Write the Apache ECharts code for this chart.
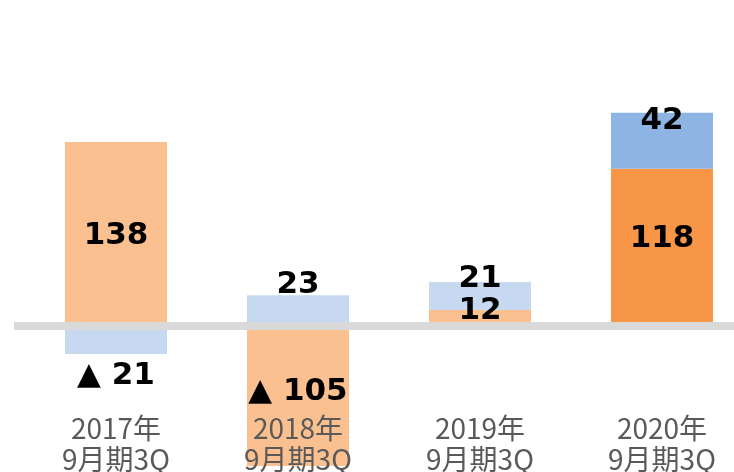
<!DOCTYPE html>
<html>
<head>
<meta charset="utf-8">
<script src="https://cdn.jsdelivr.net/npm/echarts@6/dist/echarts.min.js"></script>
<style>
    html, body { margin: 0; padding: 0; background: #fff; }
    #main { width: 734px; height: 472px; }
</style>
</head>
<body>
<div id="main"></div>
<script>
// 期
var categories = ['2017年\n9月期3Q', '2018年\n9月期3Q', '2019年\n9月期3Q', '2020年\n9月期3Q'];
// オレンジ系列
var orangeValues = [138, -105, 12, 118];
// 青系列
var blueValues = [-21, 23, 21, 42];

var chart = echarts.init(document.getElementById('main'));

// 2020年だけ濃い色
var orangeColors = ['#FAC090', '#FAC090', '#FAC090', '#F79646'];
var blueColors = ['#C6D9F1', '#C6D9F1', '#C6D9F1', '#8EB4E3'];
// ラベルの上下位置
var orangeLabelDy = [2, -4, -7, -8];
var blueLabelDy = [36, -26, -17, -20];

function fmt(p) {
    return p.value < 0 ? '▲ ' + (-p.value) : String(p.value);
}

function buildData(values, colors, dy) {
    return values.map(function (v, i) {
        return {
            value: v,
            itemStyle: { color: colors[i] },
            label: { offset: [0, dy[i]] }
        };
    });
}

var labelStyle = {
    show: true,
    position: 'inside',
    formatter: fmt,
    color: '#000',
    fontFamily: 'DejaVu Sans',
    fontWeight: 'bold',
    fontSize: 31
};

var option = {
    animation: false,
    grid: [
        // 棒グラフ
        { left: 25, top: 66, width: 728, height: 406.67, outerBoundsMode: 'none', containLabel: false },
        // ゼロ線用
        { left: 14, top: 66, width: 720, height: 406.67, outerBoundsMode: 'none', containLabel: false }
    ],
    xAxis: [
        {
            type: 'category',
            gridIndex: 0,
            data: categories,
            position: 'bottom',
            offset: -60,
            z: 10,
            axisLine: { show: false, onZero: false },
            axisTick: { show: false },
            axisLabel: {
                margin: 0,
                verticalAlign: 'top',
                color: '#595959',
                fontFamily: 'Noto Sans CJK JP',
                fontSize: 28,
                lineHeight: 31
            }
        },
        {
            type: 'category',
            gridIndex: 1,
            data: categories,
            position: 'bottom',
            z: 5,
            axisLine: { show: true, onZero: true, lineStyle: { color: '#D9D9D9', width: 8, cap: 'butt' } },
            axisTick: { show: false },
            axisLabel: { show: false }
        }
    ],
    yAxis: [
        { type: 'value', gridIndex: 0, min: -110, max: 195, show: false, splitLine: { show: false } },
        { type: 'value', gridIndex: 1, min: -110, max: 195, show: false, splitLine: { show: false } }
    ],
    series: [
        {
            name: 'orange',
            type: 'bar',
            stack: 'total',
            barWidth: 102,
            data: buildData(orangeValues, orangeColors, orangeLabelDy),
            label: labelStyle
        },
        {
            name: 'blue',
            type: 'bar',
            stack: 'total',
            barWidth: 102,
            data: buildData(blueValues, blueColors, blueLabelDy),
            label: labelStyle
        }
    ]
};
chart.setOption(option);
</script>
</body>
</html>
